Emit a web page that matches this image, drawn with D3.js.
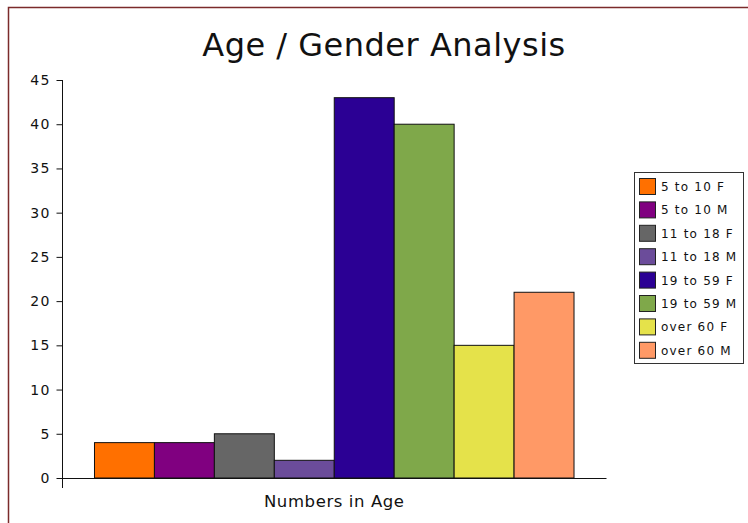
<!DOCTYPE html>
<html>
<head>
<meta charset="utf-8">
<script src="https://cdn.jsdelivr.net/npm/d3@7"></script>
<style>
  html, body { margin: 0; padding: 0; background: #fff; }
  svg { display: block; font-family: "DejaVu Sans", Verdana, sans-serif; }
</style>
</head>
<body>
<svg id="chart" width="748" height="523"></svg>
<script>
// chart data
var groups = ['Numbers in Age'];
var series = ['5 to 10 F', '5 to 10 M', '11 to 18 F', '11 to 18 M',
              '19 to 59 F', '19 to 59 M', 'over 60 F', 'over 60 M'];
var values = [4, 4, 5, 2, 43, 40, 15, 21];
var colors = ['#ff7000', '#800080', '#666666', '#6b4c9a',
              '#2b0094', '#7fa84a', '#e5e24a', '#ff9966'];
var yTicks = [0, 5, 10, 15, 20, 25, 30, 35, 40, 45];

var svg = d3.select('#chart');

// outer frame (right and bottom edges fall outside the picture)
svg.append('rect')
  .attr('x', 8.5).attr('y', 7.5)
  .attr('width', 760).attr('height', 530)
  .attr('fill', 'none')
  .attr('stroke', '#7b2b2b')
  .attr('stroke-width', 1.5);

var plotLeft = 62.5, plotRight = 606, plotTop = 80, plotBottom = 478;

var x0 = d3.scaleBand().domain(groups).range([plotLeft, plotRight])
  .paddingInner(0).paddingOuter(0.0667);
var x1 = d3.scaleBand().domain(series).range([0, x0.bandwidth()]);
var y = d3.scaleLinear().domain([0, 45]).range([plotBottom, plotTop]);

// title
svg.append('text')
  .attr('x', 384).attr('y', 56)
  .attr('text-anchor', 'middle')
  .attr('font-size', 32)
  .attr('letter-spacing', 0.5)
  .attr('fill', '#111')
  .text('Age / Gender Analysis');

// bars
svg.append('g')
  .selectAll('rect')
  .data(series)
  .enter().append('rect')
    .attr('x', function(d) { return x0(groups[0]) + x1(d); })
    .attr('y', function(d, i) { return y(values[i]); })
    .attr('width', x1.bandwidth())
    .attr('height', function(d, i) { return y(0) - y(values[i]); })
    .attr('fill', function(d, i) { return colors[i]; })
    .attr('stroke', '#111')
    .attr('stroke-width', 1);

// y axis
var yAxis = svg.append('g')
  .attr('transform', 'translate(' + plotLeft + ',0)')
  .call(d3.axisLeft(y).tickValues(yTicks).tickSize(6).tickSizeOuter(0).tickPadding(6));
yAxis.select('.domain').remove();
yAxis.append('line')
  .attr('x1', 0).attr('x2', 0)
  .attr('y1', plotTop).attr('y2', plotBottom + 10)
  .attr('stroke', '#111');
yAxis.selectAll('.tick line').attr('stroke', '#111');
yAxis.selectAll('.tick text')
  .attr('font-size', 14)
  .attr('letter-spacing', 1.2)
  .attr('font-family', '"DejaVu Sans", Verdana, sans-serif')
  .attr('fill', '#111');

// x axis
var xAxis = svg.append('g')
  .attr('transform', 'translate(0,' + plotBottom + ')')
  .call(d3.axisBottom(x0).tickSize(0).tickSizeOuter(0).tickPadding(17));
xAxis.select('.domain').attr('stroke', '#111');
xAxis.selectAll('.tick text')
  .attr('font-size', 16.5)
  .attr('letter-spacing', 0.6)
  .attr('font-family', '"DejaVu Sans", Verdana, sans-serif')
  .attr('fill', '#111');

// legend
var lg = svg.append('g').attr('transform', 'translate(634,172)');
lg.append('rect')
  .attr('x', 0.5).attr('y', 0.5)
  .attr('width', 109).attr('height', 191)
  .attr('fill', '#fff')
  .attr('stroke', '#333');
var item = lg.selectAll('g.item')
  .data(series)
  .enter().append('g')
    .attr('class', 'item')
    .attr('transform', function(d, i) { return 'translate(5.5,' + (6.5 + i * 23.4) + ')'; });
item.append('rect')
  .attr('width', 16).attr('height', 16)
  .attr('fill', function(d, i) { return colors[i]; })
  .attr('stroke', '#222');
item.append('text')
  .attr('x', 21.5).attr('y', 12.5)
  .attr('font-size', 12)
  .attr('letter-spacing', 1.2)
  .attr('fill', '#111')
  .text(function(d) { return d; });
</script>
</body>
</html>
